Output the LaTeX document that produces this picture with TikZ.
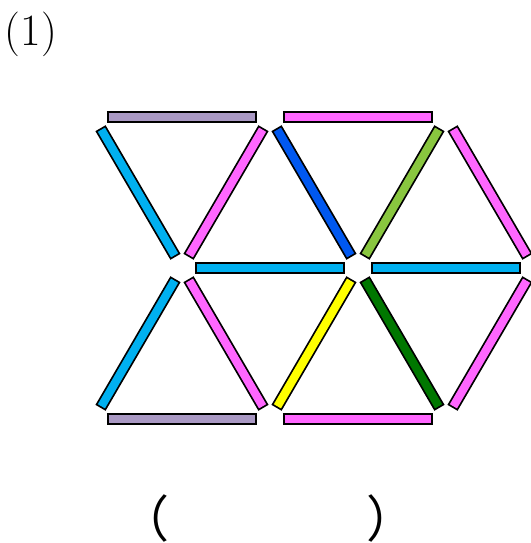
\documentclass[tikz,border=0pt]{standalone}
\usepackage{fontspec}
\newfontfamily\jpfont{Noto Sans CJK JP}
\usepackage{xcolor}
\usepackage{tikz}
\usetikzlibrary{calc}

\definecolor{stlilac}{RGB}{170,153,196}
\definecolor{stcyan}{RGB}{0,176,240}
\definecolor{stpink}{RGB}{255,102,255}
\definecolor{stblue}{RGB}{0,88,240}
\definecolor{stlime}{RGB}{137,198,63}
\definecolor{styellow}{RGB}{255,255,0}
\definecolor{stgreen}{RGB}{0,119,0}

% one match stick: black rim, then the coloured core
\newcommand{\stick}[3]{%
  \draw[rim] (#1) -- (#2);
  \draw[core, draw=#3] (#1) -- (#2);}

\begin{document}
\begin{tikzpicture}[
  x=0.34pt, y=0.34pt,
  rim/.style={line width=4.0pt, draw=black,
              shorten <=4.4pt, shorten >=4.4pt},
  core/.style={line width=2.8pt,
               shorten <=5.0pt, shorten >=5.0pt},
  numlbl/.style={font=\fontsize{15.2pt}{18pt}\selectfont, inner sep=0pt},
  blank/.style={font=\jpfont\fontsize{17pt}{19pt}\selectfont, inner sep=0pt},
]
\useasboundingbox (0,0) rectangle (531,543);

% --- lattice points ---
\coordinate (t0) at (94,426);
\coordinate (t1) at (270,426);
\coordinate (t2) at (446,426);
\coordinate (m1) at (182,275);
\coordinate (m2) at (358,275);
\coordinate (m3) at (534,275);
\coordinate (b0) at (94,124);
\coordinate (b1) at (270,124);
\coordinate (b2) at (446,124);

% --- upper row ---
\stick{t0}{t1}{stlilac}
\stick{t0}{m1}{stcyan}
\stick{t1}{m1}{stpink}
\stick{t1}{t2}{stpink}
\stick{t1}{m2}{stblue}
\stick{t2}{m2}{stlime}
\stick{t2}{m3}{stpink}

% --- middle line ---
\stick{m1}{m2}{stcyan}
\stick{m2}{m3}{stcyan}

% --- lower row ---
\stick{m1}{b0}{stcyan}
\stick{m1}{b1}{stpink}
\stick{b0}{b1}{stlilac}
\stick{m2}{b1}{styellow}
\stick{m2}{b2}{stgreen}
\stick{b1}{b2}{stpink}
\stick{m3}{b2}{stpink}

% --- labels ---
\node[numlbl] (num) at (31,509) {(1)};
\node[blank] (ans) at (268,24) {（\hspace{67pt}）};

\end{tikzpicture}
\end{document}
